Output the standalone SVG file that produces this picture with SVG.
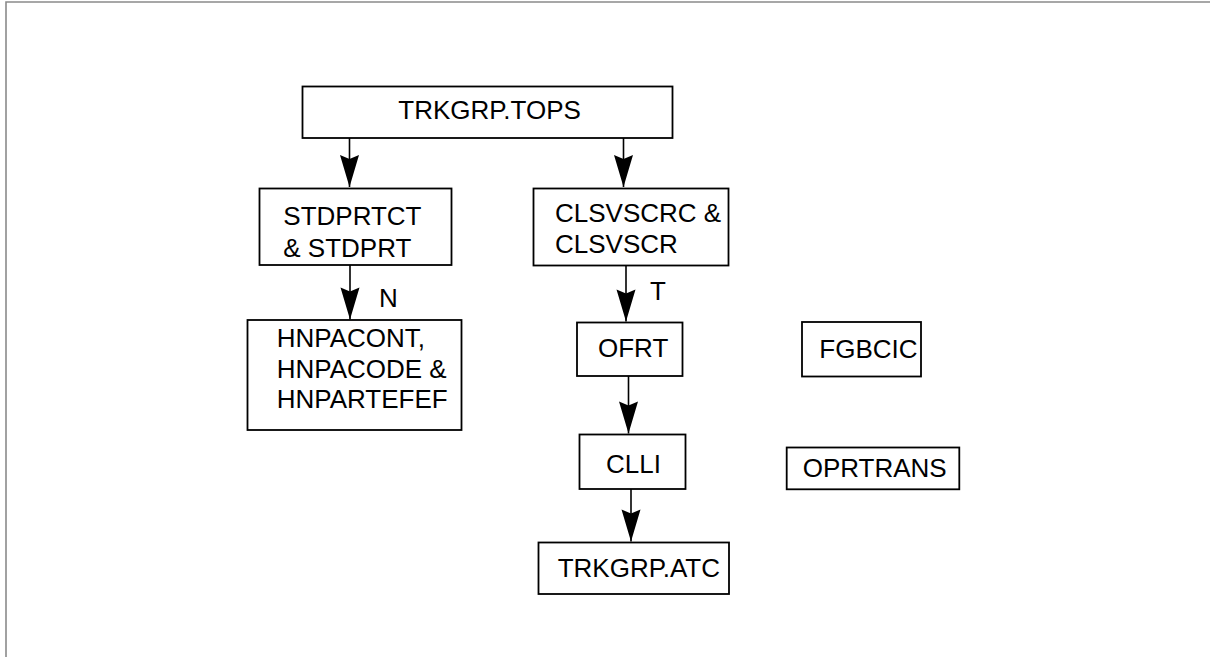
<svg xmlns="http://www.w3.org/2000/svg" width="1210" height="657" viewBox="0 0 1210 657">
<style>
.box{fill:#fff;stroke:#000;stroke-width:1.8}
.t{font-family:"Liberation Sans",Arial,sans-serif;font-size:26px;fill:#000}
.c{stroke:#000;stroke-width:1.6;fill:none;marker-end:url(#ah)}
.frame{stroke:#8a8a8a;stroke-width:1.6;fill:none}
</style>
<defs>
<marker id="ah" viewBox="-33 -11 34 22" markerWidth="34" markerHeight="22" refX="0" refY="0" orient="auto" markerUnits="userSpaceOnUse">
<path d="M0,0 L-32,-9.5 L-28,0 L-32,9.5 Z" fill="#000"/>
</marker>
</defs>
<path class="frame" d="M6,657 V2 H1210"/>
<g id="connectors">
<line class="c" x1="349.5" y1="138" x2="349.5" y2="187"/>
<line class="c" x1="623.5" y1="138" x2="623.5" y2="187"/>
<line class="c" x1="350" y1="265" x2="350" y2="319.5"/>
<line class="c" x1="626" y1="266" x2="626" y2="321.5"/>
<line class="c" x1="628.5" y1="376" x2="628.5" y2="433.5"/>
<line class="c" x1="631" y1="489" x2="631" y2="541.5"/>
<text class="t" x="379" y="306.5">N</text>
<text class="t" x="650" y="300">T</text>
</g>
<g id="trkgrp-tops">
<rect class="box" x="302.5" y="86.5" width="370" height="51.5"/>
<text class="t" x="398.3" y="119.3">TRKGRP.TOPS</text>
</g>
<g id="stdprtct">
<rect class="box" x="259.5" y="188.5" width="192" height="76.5"/>
<text class="t" x="283.3" y="225">STDPRTCT</text>
<text class="t" x="283.3" y="256.5">&amp; STDPRT</text>
</g>
<g id="clsvscrc">
<rect class="box" x="533.5" y="188.5" width="195" height="77"/>
<text class="t" x="555" y="221.7">CLSVSCRC &amp;</text>
<text class="t" x="555" y="252.7">CLSVSCR</text>
</g>
<g id="hnpacont">
<rect class="box" x="247.5" y="320" width="214" height="110"/>
<text class="t" x="276.7" y="346.7">HNPACONT,</text>
<text class="t" x="276.7" y="378.3">HNPACODE &amp;</text>
<text class="t" x="276.7" y="408.3">HNPARTEFEF</text>
</g>
<g id="ofrt">
<rect class="box" x="577" y="322.5" width="105.5" height="53.5"/>
<text class="t" x="598" y="356.7">OFRT</text>
</g>
<g id="fgbcic">
<rect class="box" x="802" y="322" width="119" height="54.5"/>
<text class="t" x="819.3" y="358.3">FGBCIC</text>
</g>
<g id="clli">
<rect class="box" x="579.5" y="434.5" width="106" height="54.5"/>
<text class="t" x="606" y="472.7">CLLI</text>
</g>
<g id="oprtrans">
<rect class="box" x="786.7" y="447.5" width="172.6" height="41.8"/>
<text class="t" x="802.7" y="477.3">OPRTRANS</text>
</g>
<g id="trkgrp-atc">
<rect class="box" x="538.5" y="542.5" width="190.5" height="51.5"/>
<text class="t" x="557.7" y="577.3">TRKGRP.ATC</text>
</g>
</svg>
